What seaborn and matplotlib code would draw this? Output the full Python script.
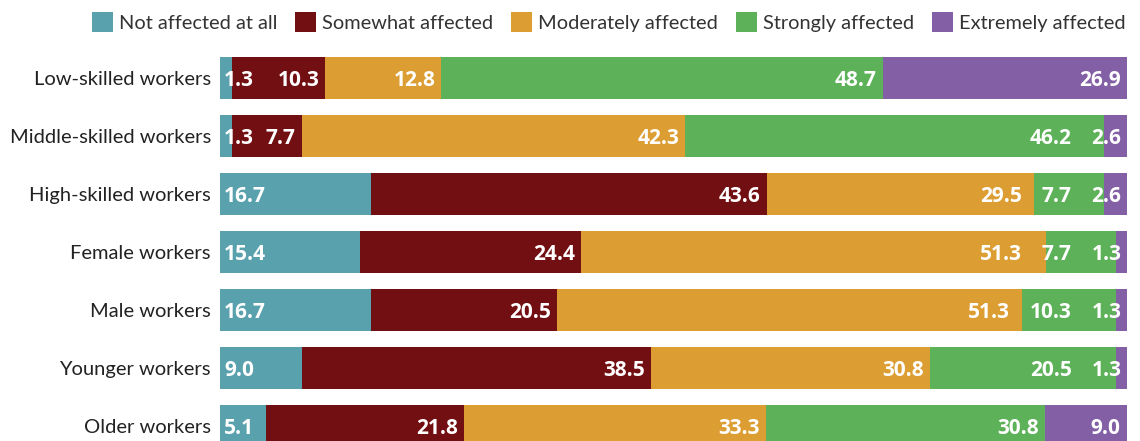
import numpy as np
import pandas as pd
import matplotlib
matplotlib.use("Agg")
import matplotlib.pyplot as plt
import seaborn as sns
from matplotlib.patches import Patch

categories = ["Low-skilled workers", "Middle-skilled workers", "High-skilled workers",
              "Female workers", "Male workers", "Younger workers", "Older workers"]
series_names = ["Not affected at all", "Somewhat affected", "Moderately affected",
                "Strongly affected", "Extremely affected"]
not_affected = [1.3, 1.3, 16.7, 15.4, 16.7, 9.0, 5.1]
somewhat = [10.3, 7.7, 43.6, 24.4, 20.5, 38.5, 21.8]
moderately = [12.8, 42.3, 29.5, 51.3, 51.3, 30.8, 33.3]
strongly = [48.7, 46.2, 7.7, 7.7, 10.3, 20.5, 30.8]
extremely = [26.9, 2.6, 2.6, 1.3, 1.3, 1.3, 9.0]
colors = ["#58A1AD", "#720F12", "#DC9D33", "#5DB158", "#835FA5"]

series = [not_affected, somewhat, moderately, strongly, extremely]
vals = np.array(series)  # shape (5, 7)
cum = np.cumsum(vals, axis=0)

sns.set_theme(style="white")
LABEL_FONT = ["Lato", "DejaVu Sans"]
VALUE_FONT = ["Open Sans", "DejaVu Sans"]
plt.rcParams["font.family"] = LABEL_FONT

W, H, DPI = 1140, 441, 100
fig = plt.figure(figsize=(W / DPI, H / DPI), dpi=DPI)
ax = fig.add_axes([220 / W, (441 - 455) / H, 907 / W, 406 / H])

# stacked bars via overlay of cumulative totals (largest first)
for k in range(len(series) - 1, -1, -1):
    df = pd.DataFrame({"cat": categories, "val": cum[k]})
    sns.barplot(data=df, y="cat", x="val", order=categories, color=colors[k],
                orient="h", width=0.72, ax=ax, saturation=1, linewidth=0,
                edgecolor="none")

ax.set_xlim(0, 100.05)
ax.set_ylim(len(categories) - 0.5, -0.5)
ax.set_xlabel("")
ax.set_ylabel("")
ax.set_xticks([])
for s in ax.spines.values():
    s.set_visible(False)
ax.tick_params(axis="y", length=0, pad=6.5, labelsize=14.5, labelcolor="#222222")

VAL_SIZE = 15
fig.canvas.draw()
renderer = fig.canvas.get_renderer()
pad_px = 6
gap_px = 20
px2pt = 72 / DPI
for i, cat in enumerate(categories):
    ax.annotate(f"{vals[0, i]:.1f}", xy=(0, i), xytext=(4 * px2pt, 0),
                textcoords="offset points", ha="left", va="center_baseline",
                color="white", fontsize=VAL_SIZE, fontweight="bold", family=VALUE_FONT)
    next_left = None
    for k in range(len(series) - 1, 0, -1):
        end = cum[k, i]
        end_px = ax.transData.transform((end, i))[0]
        right = end_px - pad_px
        if next_left is not None:
            right = min(right, next_left - gap_px)
        t = ax.annotate(f"{vals[k, i]:.1f}", xy=(end, i),
                        xytext=((right - end_px) * px2pt, 0),
                        textcoords="offset points", ha="right", va="center_baseline",
                        color="white", fontsize=VAL_SIZE, fontweight="bold",
                        family=VALUE_FONT)
        bb = t.get_window_extent(renderer)
        next_left = bb.x0

handles = [Patch(facecolor=c, edgecolor="none") for c in colors]
fig.legend(handles, series_names, loc="center right",
           bbox_to_anchor=(1126 / W, 1 - 22 / H), ncol=5, frameon=False,
           fontsize=14.4, handlelength=1.05, handleheight=1.15,
           handletextpad=0.3, columnspacing=0.9, labelcolor="#333333",
           borderaxespad=0, borderpad=0)

fig.savefig("out.png", dpi=DPI)
